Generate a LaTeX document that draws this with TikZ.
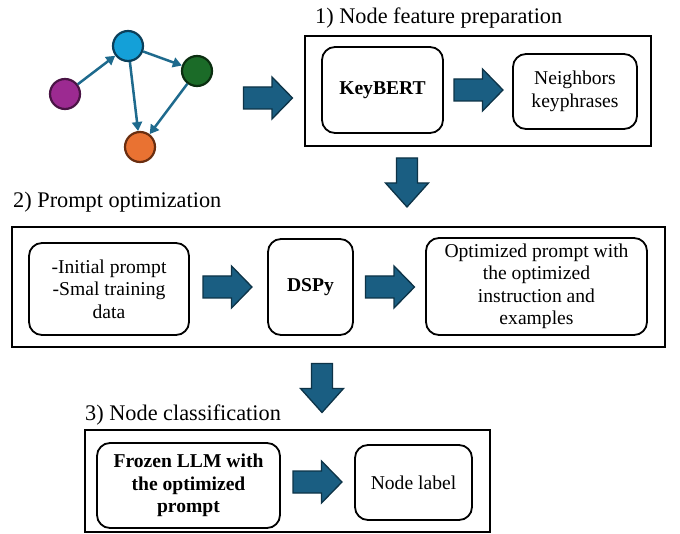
\documentclass[tikz,border=0pt]{standalone}
\usepackage{fontspec}
\setmainfont{Liberation Serif}
\usetikzlibrary{arrows.meta}
\definecolor{arrowfill}{HTML}{1A5E82}
\definecolor{arrowedge}{HTML}{0D3347}
\definecolor{edgecol}{HTML}{1E6A8D}
\definecolor{cpurple}{HTML}{9C2A91}
\definecolor{cpurpleb}{HTML}{4A1445}
\definecolor{cblue}{HTML}{14A0D8}
\definecolor{cblueb}{HTML}{0B3F5A}
\definecolor{cgreen}{HTML}{1B6B28}
\definecolor{cgreenb}{HTML}{0B2E10}
\definecolor{corange}{HTML}{E97232}
\definecolor{corangeb}{HTML}{6A2E10}
\begin{document}
\begin{tikzpicture}[x=1pt,y=-1pt,
  frame/.style={draw=black, line width=2.2pt, inner sep=0pt},
  ibox/.style={draw=black, line width=1.8pt, rounded corners=13pt, align=center,
    inner sep=2pt, font=\fontsize{19.6}{22.5}\selectfont},
  ttl/.style={font=\fontsize{22.3}{26}\selectfont, anchor=west, inner sep=0pt},
  barrow/.style={fill=arrowfill, draw=arrowedge, line width=1.3pt, line join=miter},
  gnode/.style={circle, minimum size=30pt, inner sep=0pt, line width=2.2pt},
  gedge/.style={draw=edgecol, line width=2.5pt, -{Triangle[length=9pt,width=10pt]}, shorten >=0pt},
  rarr/.pic={\path[barrow] (-24.5,-11) -- (4,-11) -- (4,-21) -- (24.5,0) -- (4,21) -- (4,11) -- (-24.5,11) -- cycle;},
  darr/.pic={\path[barrow] (-10.5,-24.5) -- (10.5,-24.5) -- (10.5,0.5) -- (21.5,0.5) -- (0,24.5) -- (-21.5,0.5) -- (-10.5,0.5) -- cycle;}
]
\useasboundingbox (0,0) rectangle (680,534);

% graph
\node[gnode, fill=cpurple, draw=cpurpleb] (gp) at (65,94) {};
\node[gnode, fill=cblue, draw=cblueb] (gb) at (128,46) {};
\node[gnode, fill=cgreen, draw=cgreenb] (gg) at (197,71) {};
\node[gnode, fill=corange, draw=corangeb] (go) at (140,147) {};
\draw[gedge] (gp) -- (gb);
\draw[gedge] (gb) -- (gg);
\draw[gedge] (gb) -- (go);
\draw[gedge] (gg) -- (go);

\pic at (268,98) {rarr};

% stage 1
\node[ttl] (t1) at (315,18) {1) Node feature preparation};
\node[frame, minimum width=346, minimum height=110] (f1) at (478,91) {};
\node[ibox, minimum width=121, minimum height=86] (kb) at (382.5,90) {\textbf{KeyBERT}};
\node[ibox, minimum width=124, minimum height=75] (nk) at (575,91.5) {Neighbors\\keyphrases};
\pic at (478.5,90) {rarr};

\pic at (407,182.5) {darr};

% stage 2
\node[ttl] (t2) at (13,202) {2) Prompt optimization};
\node[frame, minimum width=653, minimum height=120] (f2) at (338.5,287) {};
\node[ibox, minimum width=160, minimum height=92] (ip) at (109,289) {-Initial prompt\\-Smal training\\data};
\pic at (227.5,287) {rarr};
\node[ibox, minimum width=85, minimum height=96] (ds) at (310.5,287) {\textbf{DSPy}};
\pic at (390,287) {rarr};
\node[ibox, minimum width=221, minimum height=97] (op) at (536.5,286.5) {Optimized prompt with\\the optimized\\instruction and\\examples};

\pic at (322,388) {darr};

% stage 3
\node[ttl] (t3) at (85,415) {3) Node classification};
\node[frame, minimum width=405, minimum height=102] (f3) at (287.5,481) {};
\node[ibox, minimum width=183, minimum height=85] (fz) at (188.5,485.5) {\textbf{Frozen LLM with}\\\textbf{the optimized}\\\textbf{prompt}};
\pic at (317.5,482) {rarr};
\node[ibox, minimum width=117, minimum height=75] (nl) at (413.5,482.5) {Node label};
\end{tikzpicture}
\end{document}
